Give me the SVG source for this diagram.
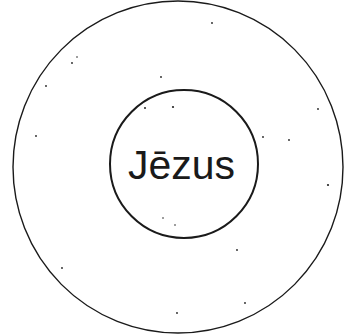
<svg xmlns="http://www.w3.org/2000/svg" width="348" height="335" viewBox="0 0 348 335">
<style>
.ring{fill:none;stroke:#1a1a1a}
.dot{fill:#222}
.lbl{font-family:"Liberation Sans","DejaVu Sans",sans-serif;font-size:40px;fill:#1a1a1a}
</style>
<rect width="348" height="335" fill="#fff"/>
<g id="outer">
<ellipse class="ring" cx="178" cy="167" rx="165" ry="166" stroke-width="1.4"/>
</g>
<g id="inner">
<circle class="ring" cx="184" cy="164" r="74" stroke-width="2"/>
<text class="lbl" x="128" y="179" textLength="107" lengthAdjust="spacingAndGlyphs">Jēzus</text>
</g>
<g id="dots">
<circle class="dot" cx="212" cy="23" r="0.9"/>
<circle class="dot" cx="72" cy="63" r="0.9"/>
<circle class="dot" cx="77" cy="57" r="0.8"/>
<circle class="dot" cx="46" cy="86" r="0.9"/>
<circle class="dot" cx="161" cy="77" r="0.9"/>
<circle class="dot" cx="36" cy="136" r="0.9"/>
<circle class="dot" cx="318" cy="109" r="0.9"/>
<circle class="dot" cx="263" cy="137" r="0.9"/>
<circle class="dot" cx="289" cy="140" r="0.9"/>
<circle class="dot" cx="328" cy="185" r="1.1"/>
<circle class="dot" cx="237" cy="250" r="0.9"/>
<circle class="dot" cx="62" cy="268" r="0.9"/>
<circle class="dot" cx="245" cy="303" r="0.9"/>
<circle class="dot" cx="177" cy="313" r="0.9"/>
<circle class="dot" cx="173" cy="107" r="1.1"/>
<circle class="dot" cx="145" cy="108" r="1"/>
<circle class="dot" cx="163" cy="218" r="0.8"/>
<circle class="dot" cx="175" cy="225" r="0.8"/>
</g>
</svg>
